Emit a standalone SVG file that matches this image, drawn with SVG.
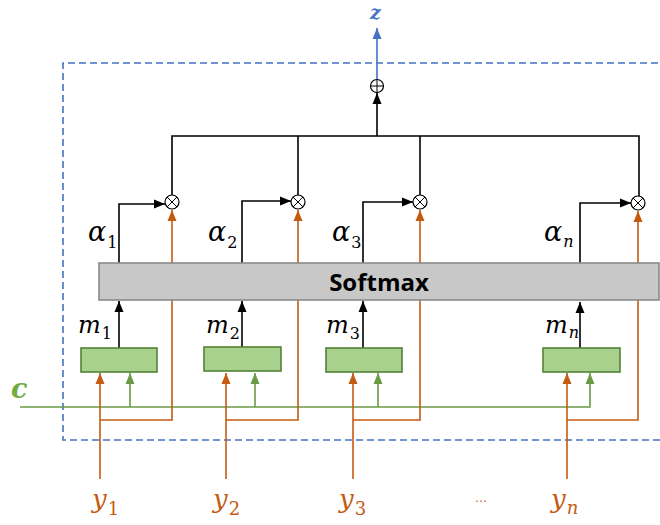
<svg xmlns="http://www.w3.org/2000/svg" width="660" height="525" viewBox="0 0 660 525">
<style>
.k{fill:none;stroke:#000;stroke-width:1.6}
.o{fill:none;stroke:#c55a11;stroke-width:1.6}
.g{fill:none;stroke:#6a9a45;stroke-width:1.6}
.b{fill:none;stroke:#4472c4;stroke-width:1.6}
.box{fill:#a9d18e;stroke:#548235;stroke-width:1.6}
.op{fill:#fff;stroke:#000;stroke-width:1.2}
.m{font-family:"DejaVu Serif",serif;font-style:italic}
.d{font-style:normal}
</style>
<defs>
<marker id="ak" markerUnits="userSpaceOnUse" markerWidth="12" markerHeight="12" viewBox="0 0 12 12" refX="11" refY="6" orient="auto"><path d="M0,1.5 L11,6 L0,10.5 Z" fill="#000"/></marker>
<marker id="ao" markerUnits="userSpaceOnUse" markerWidth="12" markerHeight="12" viewBox="0 0 12 12" refX="11" refY="6" orient="auto"><path d="M0,1.5 L11,6 L0,10.5 Z" fill="#c55a11"/></marker>
<marker id="ag" markerUnits="userSpaceOnUse" markerWidth="12" markerHeight="12" viewBox="0 0 12 12" refX="11" refY="6" orient="auto"><path d="M0,1.5 L11,6 L0,10.5 Z" fill="#6a9a45"/></marker>
<marker id="ab" markerUnits="userSpaceOnUse" markerWidth="12" markerHeight="12" viewBox="0 0 12 12" refX="11" refY="6" orient="auto"><path d="M0,1.5 L11,6 L0,10.5 Z" fill="#4472c4"/></marker>
</defs>
<rect width="660" height="525" fill="#fff"/>
<g id="frame"><path d="M680,63 H63 V440 H680" fill="none" stroke="#4472c4" stroke-width="1.6" stroke-dasharray="7 4"/></g>
<g id="connectors">
<path class="b" d="M377,79 V28" marker-end="url(#ab)"/>
<path class="k" d="M172,195 V136 H639 V196"/>
<path class="k" d="M298,136 V195"/>
<path class="k" d="M420,136 V195"/>
<path class="k" d="M377,136 V93" marker-end="url(#ak)"/>
<path class="k" d="M119,263 V204 H165" marker-end="url(#ak)"/>
<path class="k" d="M242,263 V201 H291" marker-end="url(#ak)"/>
<path class="k" d="M363,263 V202 H413" marker-end="url(#ak)"/>
<path class="k" d="M580,263 V203 H631" marker-end="url(#ak)"/>
<path class="o" d="M172,263 V210" marker-end="url(#ao)"/>
<path class="o" d="M298,263 V210" marker-end="url(#ao)"/>
<path class="o" d="M420,263 V210" marker-end="url(#ao)"/>
<path class="o" d="M638,263 V211" marker-end="url(#ao)"/>
<path class="k" d="M119,348 V301" marker-end="url(#ak)"/>
<path class="k" d="M242,348 V301" marker-end="url(#ak)"/>
<path class="k" d="M363,348 V301" marker-end="url(#ak)"/>
<path class="k" d="M580,348 V302" marker-end="url(#ak)"/>
<path class="g" d="M20,407 H590 V373" marker-end="url(#ag)"/>
<path class="g" d="M130,407 V373" marker-end="url(#ag)"/>
<path class="g" d="M255,407 V373" marker-end="url(#ag)"/>
<path class="g" d="M378,407 V373" marker-end="url(#ag)"/>
<path class="o" d="M100,479 V373" marker-end="url(#ao)"/>
<path class="o" d="M100,420 H172 V300"/>
<path class="o" d="M226,479 V373" marker-end="url(#ao)"/>
<path class="o" d="M226,420 H298 V300"/>
<path class="o" d="M353,479 V373" marker-end="url(#ao)"/>
<path class="o" d="M353,420 H420 V300"/>
<path class="o" d="M567,479 V373" marker-end="url(#ao)"/>
<path class="o" d="M567,420 H638 V300"/>
</g>
<g id="sum"><circle class="op" cx="377" cy="86" r="6.5"/><path d="M370.5,86 H383.5 M377,79.5 V92.5" stroke="#000" stroke-width="1"/></g>
<g id="mul1"><circle class="op" cx="172" cy="202" r="7"/><path d="M167,197 L177,207 M177,197 L167,207" stroke="#000" stroke-width="1"/></g>
<g id="mul2"><circle class="op" cx="298" cy="202" r="7"/><path d="M293,197 L303,207 M303,197 L293,207" stroke="#000" stroke-width="1"/></g>
<g id="mul3"><circle class="op" cx="420" cy="202" r="7"/><path d="M415,197 L425,207 M425,197 L415,207" stroke="#000" stroke-width="1"/></g>
<g id="muln"><circle class="op" cx="638" cy="203" r="7"/><path d="M633,198 L643,208 M643,198 L633,208" stroke="#000" stroke-width="1"/></g>
<g id="softmax"><rect x="99" y="263" width="560" height="37" fill="#c8c8c8" stroke="#8a8a8a" stroke-width="1.6"/><text x="379" y="291" text-anchor="middle" font-family="'Open Sans',sans-serif" font-weight="bold" font-size="24" fill="#000">Softmax</text></g>
<g id="box1"><rect class="box" x="81" y="348" width="76" height="24"/></g>
<g id="box2"><rect class="box" x="204" y="347" width="77" height="24"/></g>
<g id="box3"><rect class="box" x="326" y="348" width="76" height="24"/></g>
<g id="boxn"><rect class="box" x="543" y="348" width="77" height="24"/></g>
<g id="labels">
<text class="m" x="370" y="19" font-weight="bold" font-size="19" fill="#4472c4">z</text>
<text class="m" x="11" y="398" font-weight="bold" font-size="27" fill="#70ad47">c</text>
<g class="m" font-size="27" fill="#000">
<text x="88" y="241">α<tspan class="d" dx="1" dy="7" font-size="16">1</tspan></text>
<text x="208" y="241">α<tspan class="d" dx="1" dy="7" font-size="16">2</tspan></text>
<text x="332" y="241">α<tspan class="d" dx="1" dy="7" font-size="16">3</tspan></text>
<text x="544" y="241">α<tspan dx="1" dy="6" font-size="16">n</tspan></text>
</g>
<g class="m" font-size="24" fill="#000">
<text x="78" y="333">m<tspan class="d" dx="1" dy="6" font-size="16">1</tspan></text>
<text x="206" y="333">m<tspan class="d" dx="1" dy="6" font-size="16">2</tspan></text>
<text x="326" y="333">m<tspan class="d" dx="1" dy="6" font-size="16">3</tspan></text>
<text x="545" y="333">m<tspan dx="1" dy="5" font-size="16">n</tspan></text>
</g>
<g class="m" font-size="26" fill="#c55a11">
<text x="92" y="508">y<tspan class="d" dx="1" dy="7" font-size="18">1</tspan></text>
<text x="213" y="508">y<tspan class="d" dx="1" dy="7" font-size="18">2</tspan></text>
<text x="339" y="508">y<tspan class="d" dx="1" dy="7" font-size="18">3</tspan></text>
<text x="551" y="508">y<tspan dx="1" dy="6" font-size="18">n</tspan></text>
</g>
<text x="481" y="502" text-anchor="middle" font-family="'Liberation Sans',sans-serif" font-size="13" fill="#c55a11">…</text>
</g>
</svg>
